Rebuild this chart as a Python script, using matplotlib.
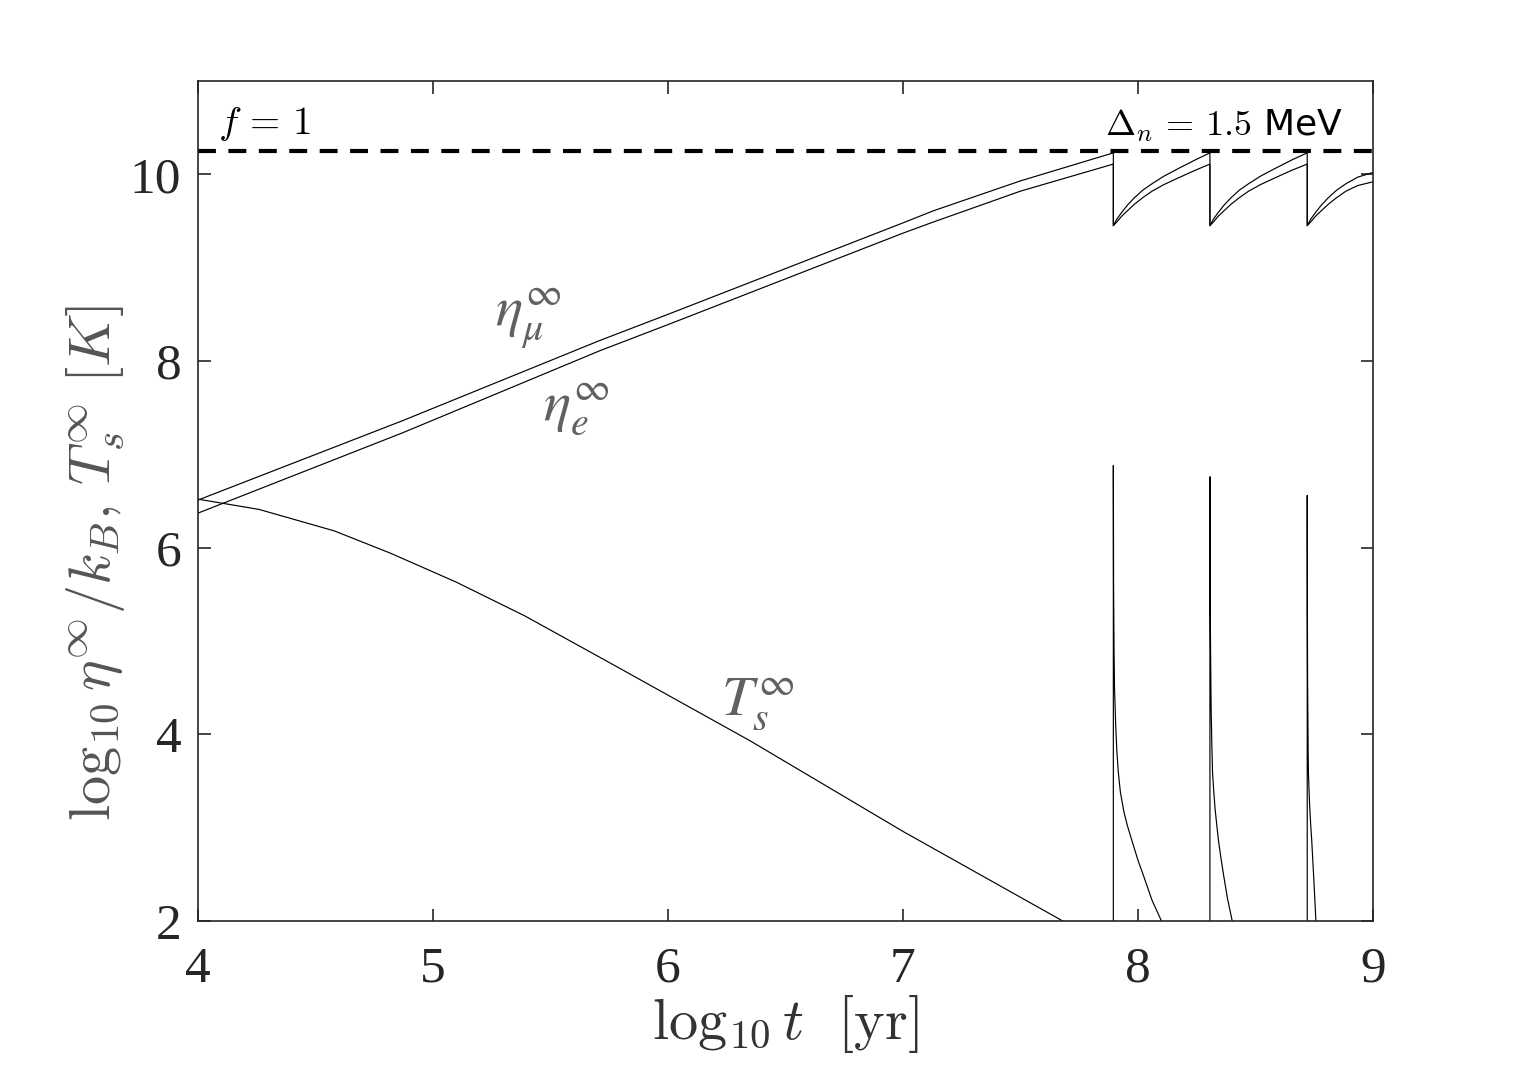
import numpy as np
import matplotlib
matplotlib.use("Agg")
import matplotlib.pyplot as plt

plt.rcParams['mathtext.fontset'] = 'cm'
plt.rcParams['font.family'] = ['Liberation Serif', 'DejaVu Serif']

# eta curves, rising part (log10 t, log10 eta/kB)
eta_t = [4.0, 4.87, 5.71, 6.0, 6.5, 7.0, 7.13, 7.5, 7.895]
eta_mu = [6.51, 7.36, 8.22, 8.50, 8.99, 9.48, 9.61, 9.93, 10.23]
eta_e = [6.37, 7.23, 8.11, 8.39, 8.88, 9.37, 9.49, 9.82, 10.11]

# sawtooth after each reset
saw1_t = [7.895, 7.910, 7.930, 7.955, 7.985, 8.020, 8.060, 8.110, 8.170, 8.240, 8.306]
saw2_t = [8.306, 8.321, 8.341, 8.366, 8.396, 8.431, 8.471, 8.521, 8.581, 8.651, 8.720]
saw3_t = [8.720, 8.735, 8.755, 8.780, 8.810, 8.845, 8.885, 8.935, 9.0]
saw1_mu = [9.45, 9.52, 9.59, 9.67, 9.75, 9.83, 9.90, 9.98, 10.06, 10.15, 10.23]
saw1_e = [9.45, 9.49, 9.55, 9.61, 9.68, 9.75, 9.82, 9.89, 9.96, 10.04, 10.11]
saw2_mu = [9.45, 9.52, 9.59, 9.67, 9.75, 9.83, 9.90, 9.98, 10.06, 10.15, 10.23]
saw2_e = [9.45, 9.49, 9.55, 9.61, 9.68, 9.75, 9.82, 9.89, 9.96, 10.04, 10.11]
saw3_mu = [9.45, 9.52, 9.59, 9.67, 9.75, 9.83, 9.90, 9.97, 10.02]
saw3_e = [9.45, 9.49, 9.55, 9.61, 9.68, 9.75, 9.82, 9.88, 9.92]

# surface temperature
ts_t = [4.0, 4.26, 4.58, 4.82, 5.10, 5.39, 5.75, 6.0, 6.35, 7.0, 7.68, 7.75]
ts_v = [6.52, 6.41, 6.18, 5.94, 5.63, 5.27, 4.77, 4.42, 3.93, 2.96, 2.0, 1.9]
sp1_t = [7.895, 7.895, 7.896, 7.898, 7.900, 7.905, 7.910, 7.916, 7.925, 7.940, 7.955,
         7.973, 8.000, 8.020, 8.060, 8.100, 8.120]
sp1_v = [1.7, 6.88, 5.6, 4.9, 4.5, 4.1, 3.82, 3.6, 3.38, 3.17, 3.02,
         2.87, 2.65, 2.51, 2.22, 2.0, 1.85]
sp2_t = [8.306, 8.306, 8.307, 8.309, 8.311, 8.314, 8.317, 8.322, 8.328, 8.335, 8.342,
         8.352, 8.363, 8.380, 8.401, 8.410]
sp2_v = [1.7, 6.76, 5.5, 4.8, 4.3, 3.9, 3.6, 3.4, 3.2, 3.03, 2.87,
         2.69, 2.51, 2.25, 2.0, 1.9]
sp3_t = [8.720, 8.720, 8.7205, 8.7215, 8.723, 8.724, 8.725, 8.728, 8.731, 8.735, 8.739,
         8.748, 8.757, 8.762]
sp3_v = [1.7, 6.56, 5.4, 4.6, 4.1, 3.8, 3.6, 3.38, 3.2, 3.02, 2.87,
         2.45, 2.0, 1.9]

eta_max = 10.25

fig = plt.figure(figsize=(15.18, 10.8), dpi=100)
ax = fig.add_axes([0.1304, 0.1472, 0.9045 - 0.1304, 0.925 - 0.1472])

mu_t = eta_t + saw1_t + saw2_t + saw3_t
mu_v = eta_mu + saw1_mu + saw2_mu + saw3_mu
e_v = eta_e + saw1_e + saw2_e + saw3_e
ax.plot(mu_t, mu_v, color='black', lw=0.85)
ax.plot(mu_t, e_v, color='black', lw=0.85)

T_t = ts_t + sp1_t + sp2_t + sp3_t
T_v = ts_v + sp1_v + sp2_v + sp3_v
ax.plot(T_t, T_v, color='black', lw=0.85)

ax.axhline(eta_max, color='black', lw=3.0, ls=(0, (4.3, 3.0)))

lab_col = '#616161'
ax.text(5.404, 8.45, r'$\eta_\mu^\infty$', fontsize=41, color=lab_col,
        ha='center', va='center', math_fontfamily='stix')
ax.text(5.609, 7.49, r'$\eta_e^\infty$', fontsize=41, color=lab_col,
        ha='center', va='center', math_fontfamily='stix')
ax.text(6.383, 4.32, r'$T_s^\infty$', fontsize=41, color=lab_col,
        ha='center', va='center', math_fontfamily='stix')

ax.text(4.085, 10.43, r'$f\, =\, 1$', fontsize=28, color='black', ha='left', va='baseline')
ax.text(8.872, 10.415, r'$\Delta_n\, =\, 1.5$ MeV', fontsize=26, color='black',
        ha='right', va='baseline', family='DejaVu Sans')

ax.set_xlim(4, 9)
ax.set_ylim(2, 11)
ax.set_xticks([4, 5, 6, 7, 8, 9])
ax.set_yticks([2, 4, 6, 8, 10])

ax.tick_params(direction='in', top=True, right=True, length=9, width=1.2,
               color='#262626', labelsize=37, labelcolor='#262626')
ax.tick_params(axis='x', pad=18)
ax.tick_params(axis='y', pad=12)
for sp in ax.spines.values():
    sp.set_color('#262626')
    sp.set_linewidth(1.2)

ax.set_xlabel(r'$\log_{10} t\ \ [\mathrm{yr}]$', fontsize=42, color='#333333', labelpad=0)
ax.set_ylabel(r'$\log_{10} \eta^{\infty}/k_B,\, T_s^{\infty}\ [K]$', fontsize=42,
              color='#555555')
ax.yaxis.set_label_coords(-0.060, 0.426)

fig.savefig('out.png', dpi=100)
